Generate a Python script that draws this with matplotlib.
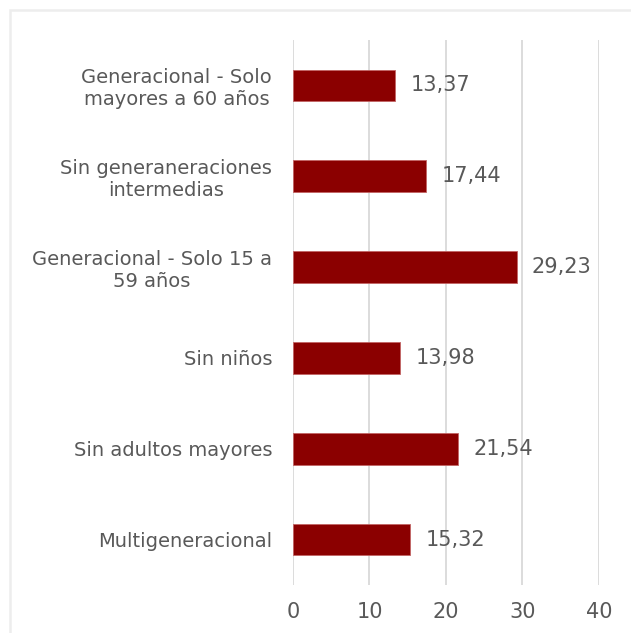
import matplotlib.pyplot as plt
from matplotlib.patches import Rectangle

categorias = [
    "Multigeneracional",
    "Sin adultos mayores",
    "Sin niños",
    "Generacional - Solo 15 a\n59 años",
    "Sin generaneraciones\nintermedias",
    "Generacional - Solo\nmayores a 60 años",
]
valores = [15.32, 21.54, 13.98, 29.23, 17.44, 13.37]
ticks = [0, 10, 20, 30, 40]

gris = "#595959"
plt.rcParams['font.family'] = ['DejaVu Sans']

fig = plt.figure(figsize=(6.31, 6.33), dpi=100)
ax = fig.add_axes([0.4643, 0.0758, 0.485, 0.861])

# marco del grafico (solo se ven el borde superior y el izquierdo)
fig.patches.append(Rectangle((10 / 631, -0.05), 1.1, 1 - 10 / 633 + 0.05,
                             transform=fig.transFigure, fill=False,
                             edgecolor="#ededed", linewidth=1.8))

pos = range(len(categorias))
ax.barh(pos, valores, height=0.35, color="#8b0000", edgecolor="#c26464",
        linewidth=0.6, zorder=3)

for y, v in zip(pos, valores):
    ax.text(v + 2, y, f"{v:.2f}".replace(".", ","), va="center", ha="left",
            fontsize=15, color=gris)

ax.set_xlim(0, 40)
ax.set_ylim(-0.5, len(categorias) - 0.5)
ax.set_xticks(ticks)
ax.set_xticklabels([str(t) for t in ticks], fontsize=15, color=gris)
ax.set_yticks(list(pos))
ax.set_yticklabels(categorias, fontsize=14, color=gris, linespacing=1.2,
                   ha="right", multialignment="center")
ax.tick_params(axis="y", length=0, pad=15)
ax.tick_params(axis="x", length=0, pad=12)
ax.grid(axis="x", color="#d9d9d9", linewidth=1.3, zorder=0)
for s in ax.spines.values():
    s.set_visible(False)

fig.savefig("out.png", dpi=100)
